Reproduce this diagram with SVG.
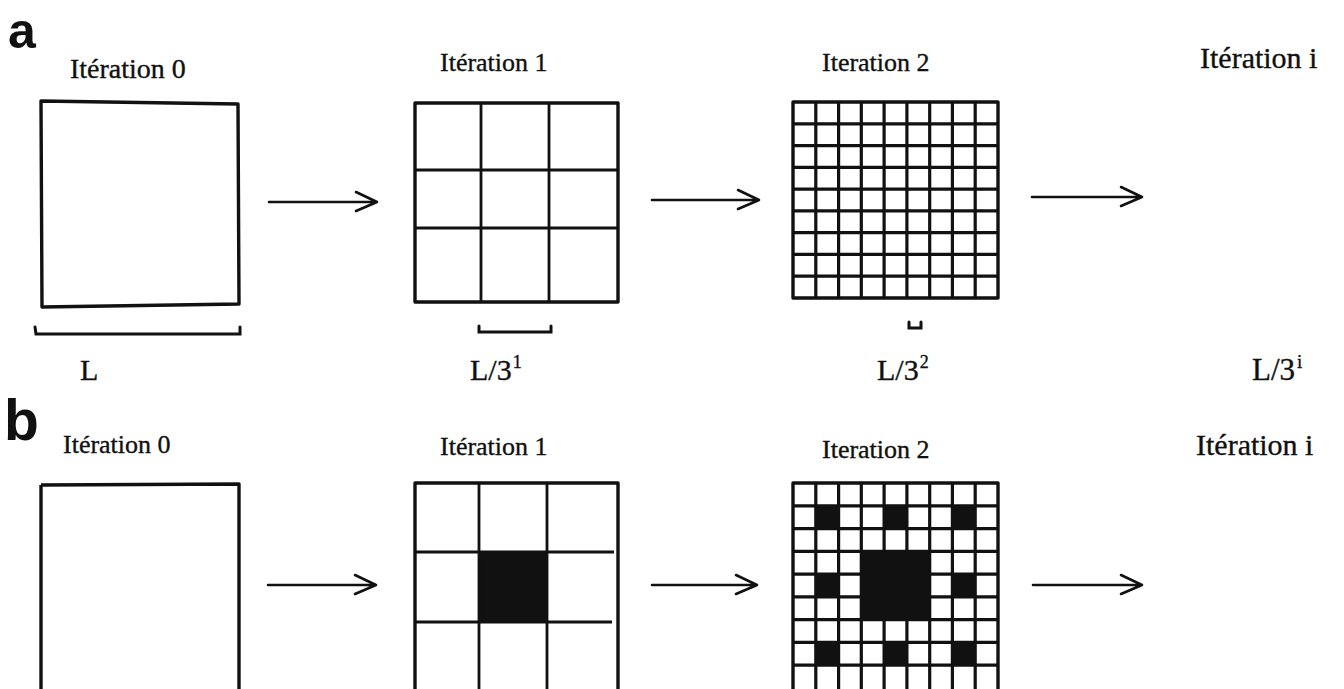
<svg xmlns="http://www.w3.org/2000/svg" width="1344" height="689" viewBox="0 0 1344 689">
<style>
.lbl{font-family:"Liberation Serif","Times New Roman",serif;fill:#111;stroke:#111;stroke-width:0.35;}
.big{font-family:"Liberation Sans",Arial,sans-serif;font-weight:bold;fill:#111;}
.frame{fill:none;stroke:#111;stroke-width:3.4;stroke-linejoin:round;}
.grid{fill:none;stroke:#111;stroke-width:2.8;}
.fine{fill:none;stroke:#111;stroke-width:3.2;}
.cell{fill:#111;}
.arrow{fill:none;stroke:#111;stroke-width:2.6;stroke-linecap:round;stroke-linejoin:round;}
.brk{fill:none;stroke:#111;stroke-width:3;stroke-linecap:round;}
</style>
<rect width="1344" height="689" fill="#ffffff"/>

<!-- Panel labels -->
<text class="big" x="8" y="48" font-size="50">a</text>
<text class="big" x="4" y="440" font-size="57">b</text>

<!-- Row a -->
<g id="a-iter0">
  <text class="lbl" x="70" y="78" font-size="28">Itération 0</text>
  <path class="frame" d="M41,101 L238,104 L239,304 L42,307 Z"/>
  <path class="brk" d="M35,327 L36,334 L240,334 L240,327"/>
  <text class="lbl" x="80" y="380" font-size="30">L</text>
</g>

<g id="a-iter1">
  <text class="lbl" x="440" y="71" font-size="26">Itération 1</text>
  <rect class="frame" x="415" y="103" width="203" height="199"/>
  <path class="grid" d="M481,103 V302 M549,103 V302 M415,170 H618 M415,228 H618"/>
  <path class="brk" d="M479,326 L479,332 L551,332 L551,326"/>
  <text class="lbl" x="470" y="380" font-size="30">L/3<tspan font-size="18" dx="1" dy="-12">1</tspan></text>
</g>

<g id="a-iter2">
  <text class="lbl" x="822" y="71" font-size="26">Iteration 2</text>
  <rect class="frame" x="793" y="102" width="205" height="196"/>
  <path class="fine" d="M815.8,102 V298 M838.6,102 V298 M861.3,102 V298 M884.1,102 V298 M906.9,102 V298 M929.7,102 V298 M952.4,102 V298 M975.2,102 V298
    M793,123.8 H998 M793,145.6 H998 M793,167.3 H998 M793,189.1 H998 M793,210.9 H998 M793,232.7 H998 M793,254.4 H998 M793,276.2 H998"/>
  <path class="brk" d="M909,322 L909,328 L921,328 L921,322"/>
  <text class="lbl" x="877" y="380" font-size="30">L/3<tspan font-size="18" dx="1" dy="-12">2</tspan></text>
</g>

<g id="a-iteri">
  <text class="lbl" x="1200" y="68" font-size="30">Itération i</text>
  <text class="lbl" x="1252" y="380" font-size="31">L/3<tspan font-size="19" dx="2" dy="-12">i</tspan></text>
</g>

<!-- Row b -->
<g id="b-iter0">
  <text class="lbl" x="63" y="453" font-size="26">Itération 0</text>
  <path class="frame" d="M41,485 L239,484 L239,692 M41,485 L41,692"/>
</g>

<g id="b-iter1">
  <text class="lbl" x="440" y="455" font-size="26">Itération 1</text>
  <rect class="cell" x="479" y="552" width="68" height="70"/>
  <path class="frame" d="M415,692 V483 H618 V692"/>
  <path class="grid" d="M479,483 V692 M547,483 V692 M415,552 H614 M415,622 H612"/>
</g>

<g id="b-iter2">
  <text class="lbl" x="822" y="458" font-size="26">Iteration 2</text>
  <g class="cell">
    <rect x="815.8" y="505.8" width="22.8" height="22.8"/>
    <rect x="884.1" y="505.8" width="22.8" height="22.8"/>
    <rect x="952.4" y="505.8" width="22.8" height="22.8"/>
    <rect x="815.8" y="574.1" width="22.8" height="22.8"/>
    <rect x="952.4" y="574.1" width="22.8" height="22.8"/>
    <rect x="815.8" y="642.4" width="22.8" height="22.8"/>
    <rect x="884.1" y="642.4" width="22.8" height="22.8"/>
    <rect x="952.4" y="642.4" width="22.8" height="22.8"/>
    <rect x="861.3" y="551.3" width="68.4" height="68.4"/>
  </g>
  <path class="frame" d="M793,692 V483 H998 V692"/>
  <path class="fine" d="M815.8,483 V692 M838.6,483 V692 M861.3,483 V692 M884.1,483 V692 M906.9,483 V692 M929.7,483 V692 M952.4,483 V692 M975.2,483 V692
    M793,505.8 H998 M793,528.6 H998 M793,551.3 H998 M793,574.1 H998 M793,596.9 H998 M793,619.7 H998 M793,642.4 H998 M793,665.2 H998"/>
</g>

<g id="b-iteri">
  <text class="lbl" x="1196" y="455" font-size="30">Itération i</text>
</g>

<!-- Connectors -->
<g id="connectors">
  <path class="arrow" d="M269,202 H377 M356,192 L377,202 L356,211"/>
  <path class="arrow" d="M652,200 H759 M738,190 L759,200 L738,209"/>
  <path class="arrow" d="M1032,197 H1142 M1121,187 L1142,197 L1121,206"/>
  <path class="arrow" d="M268,585 H376 M355,575 L376,585 L355,594"/>
  <path class="arrow" d="M652,585 H757 M736,575 L757,585 L736,594"/>
  <path class="arrow" d="M1033,585 H1142 M1121,575 L1142,585 L1121,594"/>
</g>
</svg>
